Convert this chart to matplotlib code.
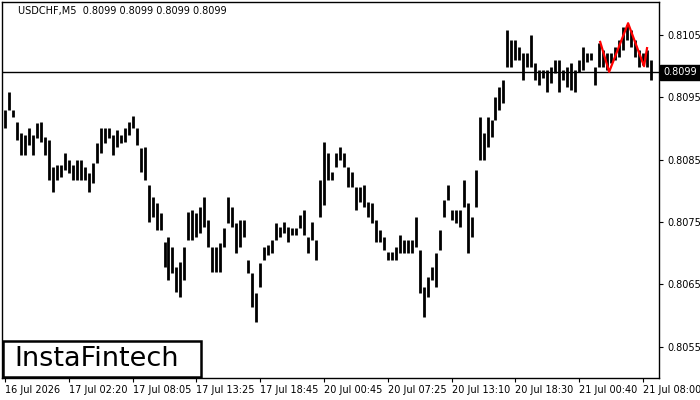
import matplotlib
matplotlib.use("Agg")
import matplotlib.pyplot as plt
from matplotlib.patches import Rectangle

# bar highs / lows (one entry every ~4 px of the original)
highs = [0.80930, 0.80959, 0.80930, 0.80910, 0.80893, 0.80890, 0.80901, 0.80890, 0.80909, 0.80910,
         0.80886, 0.80882, 0.80838, 0.80842, 0.80842, 0.80861, 0.80850, 0.80842, 0.80850, 0.80850,
         0.80838, 0.80829, 0.80845, 0.80877, 0.80901, 0.80901, 0.80901, 0.80890, 0.80898, 0.80890,
         0.80901, 0.80910, 0.80920, 0.80901, 0.80869, 0.80870, 0.80809, 0.80790, 0.80781, 0.80765,
         0.80718, 0.80726, 0.80710, 0.80678, 0.80686, 0.80710, 0.80766, 0.80769, 0.80765, 0.80774,
         0.80790, 0.80753, 0.80710, 0.80710, 0.80716, 0.80741, 0.80790, 0.80774, 0.80749, 0.80753,
         0.80753, 0.80689, 0.80668, 0.80636, 0.80684, 0.80710, 0.80713, 0.80721, 0.80749, 0.80742,
         0.80750, 0.80742, 0.80741, 0.80741, 0.80761, 0.80769, 0.80726, 0.80750, 0.80721, 0.80817,
         0.80878, 0.80861, 0.80830, 0.80861, 0.80870, 0.80861, 0.80838, 0.80830, 0.80806, 0.80806,
         0.80809, 0.80782, 0.80781, 0.80753, 0.80737, 0.80726, 0.80702, 0.80702, 0.80710, 0.80729,
         0.80721, 0.80721, 0.80721, 0.80758, 0.80705, 0.80646, 0.80662, 0.80678, 0.80700, 0.80737,
         0.80785, 0.80809, 0.80769, 0.80769, 0.80769, 0.80817, 0.80781, 0.80758, 0.80833, 0.80918,
         0.80893, 0.80918, 0.80914, 0.80951, 0.80967, 0.80978, 0.81058, 0.81042, 0.81042, 0.81031,
         0.81021, 0.81021, 0.81050, 0.81005, 0.80994, 0.80994, 0.80994, 0.80999, 0.81010, 0.81010,
         0.80994, 0.80999, 0.81005, 0.80994, 0.81010, 0.81031, 0.81021, 0.81021, 0.80999, 0.81037,
         0.81026, 0.81021, 0.81021, 0.81031, 0.81042, 0.81063, 0.81066, 0.81058, 0.81042, 0.81026,
         0.81021, 0.81026, 0.81010]
lows = [0.80901, 0.80930, 0.80918, 0.80882, 0.80858, 0.80858, 0.80874, 0.80858, 0.80885, 0.80878,
        0.80858, 0.80817, 0.80798, 0.80817, 0.80822, 0.80833, 0.80829, 0.80817, 0.80817, 0.80817,
        0.80817, 0.80798, 0.80813, 0.80845, 0.80861, 0.80877, 0.80885, 0.80858, 0.80870, 0.80877,
        0.80878, 0.80890, 0.80901, 0.80874, 0.80830, 0.80817, 0.80750, 0.80758, 0.80737, 0.80737,
        0.80678, 0.80657, 0.80668, 0.80638, 0.80630, 0.80657, 0.80721, 0.80721, 0.80726, 0.80733,
        0.80742, 0.80710, 0.80670, 0.80670, 0.80670, 0.80710, 0.80749, 0.80742, 0.80700, 0.80710,
        0.80726, 0.80668, 0.80614, 0.80590, 0.80646, 0.80689, 0.80697, 0.80700, 0.80721, 0.80726,
        0.80733, 0.80718, 0.80729, 0.80729, 0.80741, 0.80729, 0.80700, 0.80721, 0.80689, 0.80758,
        0.80777, 0.80817, 0.80817, 0.80838, 0.80850, 0.80838, 0.80806, 0.80806, 0.80769, 0.80782,
        0.80774, 0.80758, 0.80749, 0.80718, 0.80718, 0.80705, 0.80689, 0.80689, 0.80689, 0.80700,
        0.80700, 0.80700, 0.80700, 0.80710, 0.80636, 0.80598, 0.80630, 0.80657, 0.80646, 0.80705,
        0.80758, 0.80785, 0.80753, 0.80749, 0.80742, 0.80774, 0.80700, 0.80726, 0.80774, 0.80850,
        0.80850, 0.80870, 0.80886, 0.80914, 0.80930, 0.80941, 0.80999, 0.80999, 0.81010, 0.81010,
        0.80978, 0.80999, 0.80999, 0.80978, 0.80970, 0.80981, 0.80959, 0.80973, 0.80989, 0.80959,
        0.80978, 0.80967, 0.80962, 0.80959, 0.80991, 0.80994, 0.81007, 0.81010, 0.80970, 0.80999,
        0.80999, 0.80994, 0.81005, 0.81010, 0.81015, 0.81026, 0.81042, 0.81031, 0.81015, 0.80999,
        0.81002, 0.80999, 0.80978]

# red pattern (bar index, price)
pattern_x = [149.25, 151.5, 156.25, 160.25, 161.0]
pattern_y = [0.81039, 0.80991, 0.81069, 0.81000, 0.81029]

last_price = 0.8099
title = "USDCHF,M5  0.8099 0.8099 0.8099 0.8099"
y_ticks = [0.8055, 0.8065, 0.8075, 0.8085, 0.8095, 0.8105]
x_tick_pos = [0, 16, 32, 48, 64, 80, 96, 112, 128, 144, 160]
x_tick_labels = ["16 Jul 2026", "17 Jul 02:20", "17 Jul 08:05", "17 Jul 13:25", "17 Jul 18:45",
                 "20 Jul 00:45", "20 Jul 07:25", "20 Jul 13:10", "20 Jul 18:30", "21 Jul 00:40",
                 "21 Jul 08:00"]

W, H = 700, 400
fig = plt.figure(figsize=(7, 4), dpi=100)
ax = fig.add_axes([2 / W, 1 - 378 / H, 657 / W, 376 / H])

idx = list(range(len(highs)))
ax.vlines(idx, lows, highs, color="black", linewidth=2.0)
ax.axhline(last_price, color="black", linewidth=1.0)
ax.plot(pattern_x, pattern_y, color="red", linewidth=1.6)

ax.set_xlim(-0.75, 164)
ax.set_ylim(0.80500, 0.81103)

ax.yaxis.tick_right()
ax.set_yticks(y_ticks)
ax.set_yticklabels([f"{v:.4f}" for v in y_ticks])
ax.set_xticks(x_tick_pos)
ax.set_xticklabels(x_tick_labels, ha="left")
ax.tick_params(axis="both", direction="out", length=3, width=0.8, labelsize=7, colors="black", pad=2)
ax.tick_params(axis="y", pad=3)
for s in ax.spines.values():
    s.set_linewidth(1.0)

# current price tag
ax.annotate(f"{last_price:.4f}", xy=(1.0, last_price), xycoords=("axes fraction", "data"),
            xytext=(3, 0), textcoords="offset points", va="center", ha="left",
            fontsize=7, color="white",
            bbox=dict(boxstyle="square,pad=0.3", fc="black", ec="black"))

fig.text(18 / W, 1 - 11 / H, title, fontsize=7, color="black", va="center", ha="left")

# logo box
fig.patches.append(Rectangle((3 / W, 1 - 377 / H), 198 / W, 36 / H, transform=fig.transFigure,
                             facecolor="white", edgecolor="black", linewidth=1.8, zorder=5))
fig.text(97 / W, 1 - 359 / H, "InstaFintech", fontsize=19.5, color="black", ha="center",
         va="center", zorder=6)

fig.savefig("out.png", dpi=100)
